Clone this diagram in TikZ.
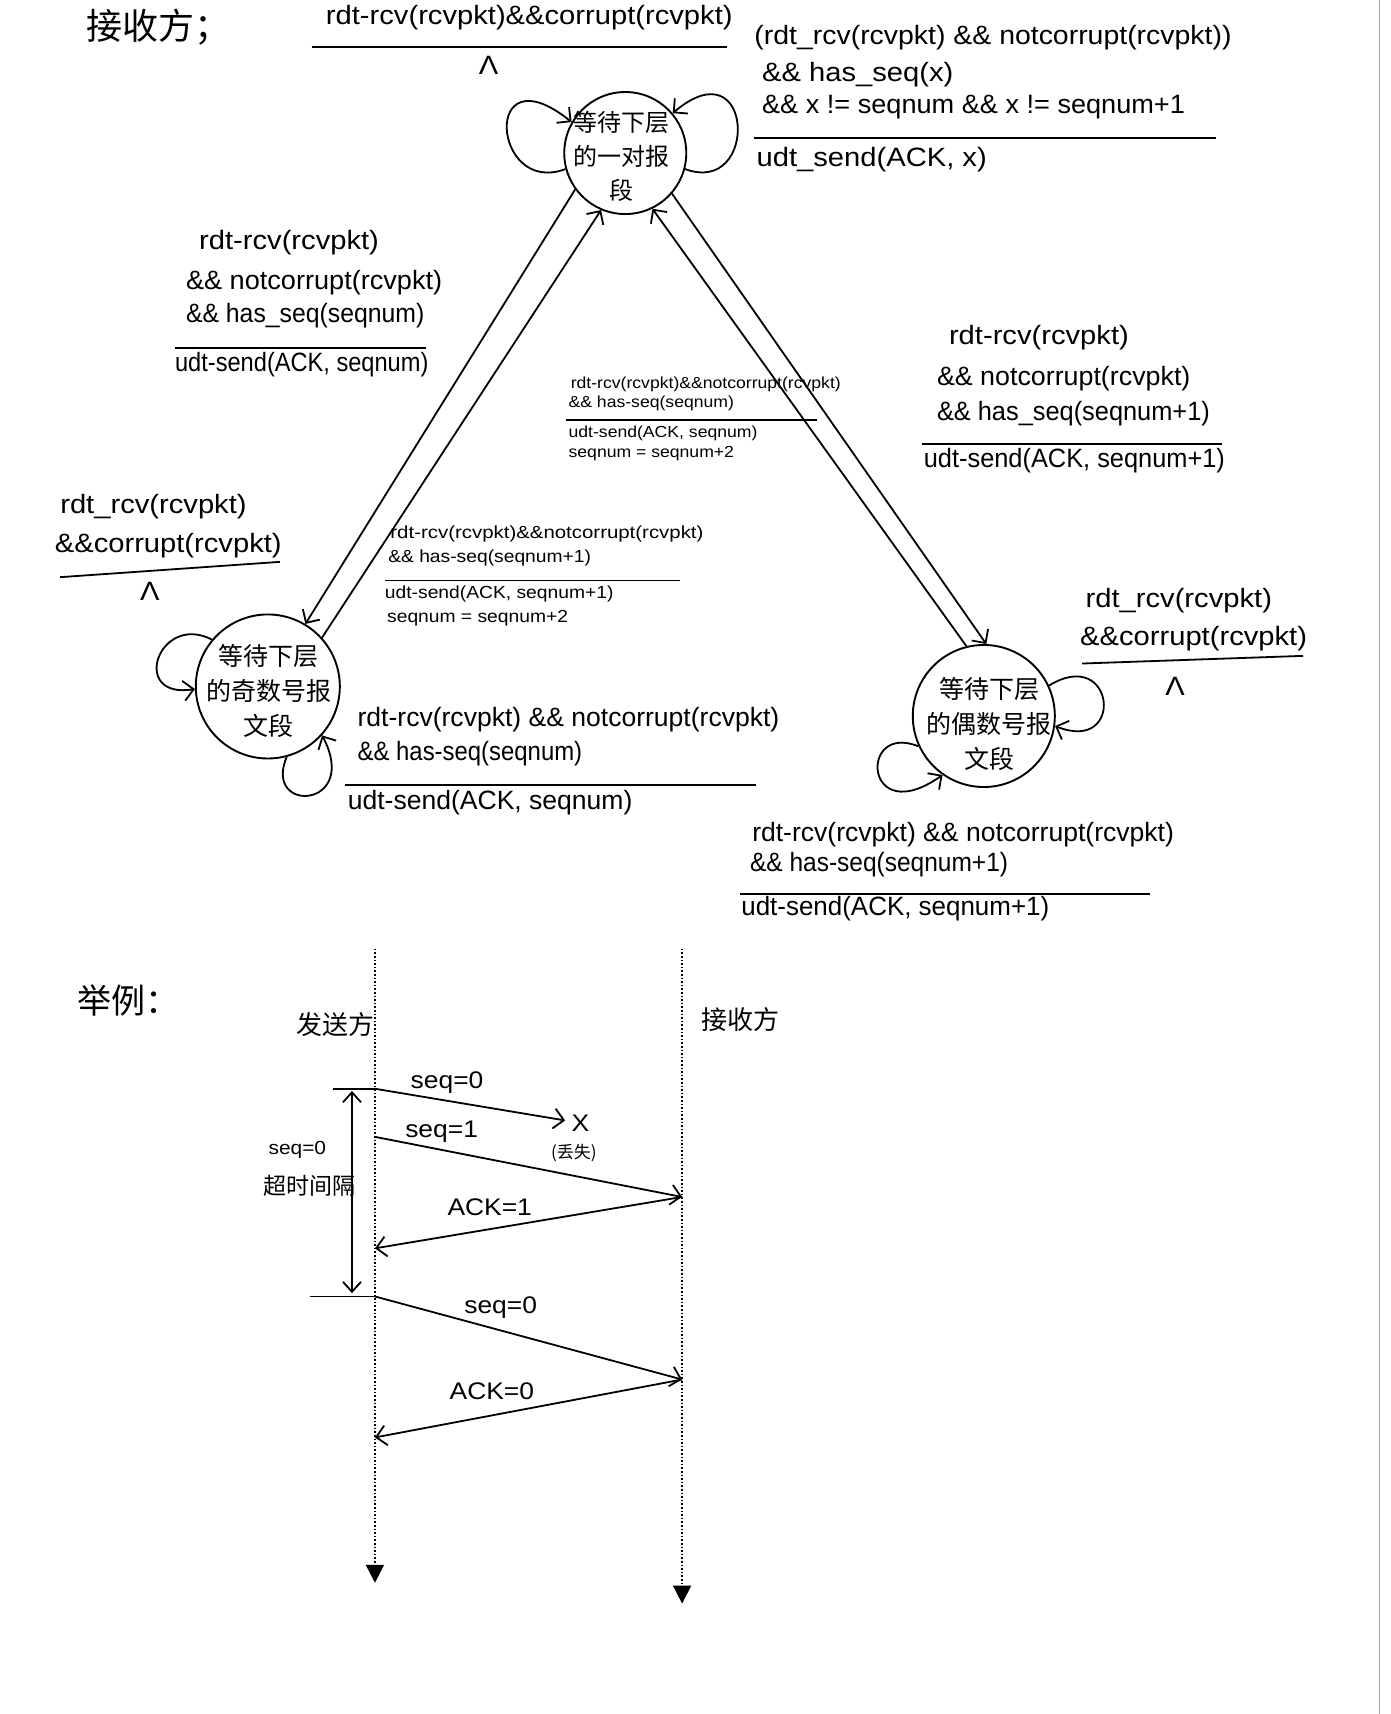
\documentclass[tikz,border=0pt]{standalone}
\usepackage{graphicx}
\usepackage{fontspec}
\setmainfont[FakeStretch=1.1]{Liberation Sans}
\newfontfamily\cjk{Noto Sans CJK SC}
\usetikzlibrary{arrows.meta}
\newcommand\hsq[2]{\scalebox{#1}[1]{#2}}
\begin{document}
\begin{tikzpicture}[x=1.0928pt,y=-1.0928pt,
  lbl/.style={anchor=mid west, inner sep=0pt, font=\fontsize{26.5}{30}\selectfont},
  sml/.style={anchor=mid west, inner sep=0pt, font=\fontsize{16}{18}\selectfont},
  mdl/.style={anchor=mid west, inner sep=0pt, font=\fontsize{17.5}{20}\selectfont},
  seqlbl/.style={anchor=center, inner sep=0pt, font=\fontsize{24}{26}\selectfont},
  cjklbl/.style={anchor=center, inner sep=0pt, font=\cjk\fontsize{26}{30}\selectfont},
  bar/.style={line width=1.8pt},
  state/.style={circle, draw, line width=1.9pt, inner sep=0pt},
  sttext/.style={align=center, inner sep=0pt, font=\cjk\fontsize{24}{34}\selectfont},
  arr/.style={line width=1.8pt, -{Straight Barb[length=10pt,width=20pt,line width=1.8pt]}},
  darr/.style={line width=1.8pt, {Straight Barb[length=10pt,width=18pt,line width=1.8pt]}-{Straight Barb[length=10pt,width=18pt,line width=1.8pt]}},
  life/.style={dotted, line width=1.6pt, -{Triangle[length=18pt,width=18pt]}}
]
\useasboundingbox (0,0) rectangle (1272,1568);
\fill[white] (0,0) rectangle (1272,1568);
\draw[black!35, line width=0.8pt] (1262,0) -- (1262,1568);

% ---------- receiver FSM ----------
\node[cjklbl, font=\cjk\fontsize{36}{40}\selectfont] (title) at (145,25) {接收方；};

% states
\node[state, minimum size=122pt] (s0) at (572,140) {};
\node[sttext] (s0t) at (569,143) {等待下层\\的一对报\\段};
\node[state, minimum size=144pt] (s1) at (245,628) {};
\node[sttext, font=\cjk\fontsize{25}{35}\selectfont] (s1t) at (246,632) {等待下层\\的奇数号报\\文段};
\node[state, minimum size=142pt] (s2) at (900,655) {};
\node[sttext, font=\cjk\fontsize{25}{35}\selectfont] (s2t) at (905,662) {等待下层\\的偶数号报\\文段};

% transitions between states
\draw[arr] (s0.216) -- (s1.59);
\draw[arr] (s1.42) -- (s0.247);
\draw[arr] (s0.319) -- (s2.88);
\draw[arr] (s2.104) -- (s0.296);

% self loops
\draw[arr] (s0.195) .. controls (450,180) and (440,45) .. (s0.150);
\draw[arr] (s0.345) .. controls (695,180) and (690,40) .. (s0.40);
\draw[arr] (s1.140) .. controls (145,560) and (118,640) .. (s1.182);
\draw[arr] (s1.285) .. controls (240,745) and (330,740) .. (s1.318);
\draw[arr] (s2.25) .. controls (1020,590) and (1030,690) .. (s2.352);
\draw[arr] (s2.205) .. controls (785,660) and (790,760) .. (s2.235);

% top self loop label
\node[lbl] (t1) at (298,20) {rdt-rcv(rcvpkt)\&\&corrupt(rcvpkt)};
\draw[bar] (285,43) -- (665,43);
\node[lbl, anchor=center] (t2) at (447,60) {Λ};

% top-right label
\node[lbl] (tr1) at (690,38) {\hsq{0.975}{(rdt\_rcv(rcvpkt) \&\& notcorrupt(rcvpkt))}};
\node[lbl] (tr2) at (697,72) {\&\& has\_seq(x)};
\node[lbl] (tr3) at (697,101) {\hsq{0.93}{\&\& x != seqnum \&\& x != seqnum+1}};
\draw[bar] (690,126) -- (1112,126);
\node[lbl] (tr4) at (692,150) {udt\_send(ACK, x)};

% left label
\node[lbl] (l1) at (182,226) {rdt-rcv(rcvpkt)};
\node[lbl] (l2) at (170,262) {\hsq{0.93}{\&\& notcorrupt(rcvpkt)}};
\node[lbl] (l3) at (170,293) {\hsq{0.85}{\&\& has\_seq(seqnum)}};
\draw[bar] (160,318) -- (390,318);
\node[lbl] (l4) at (160,337) {\hsq{0.81}{udt-send(ACK, seqnum)}};

% middle upper label
\node[sml] (m1) at (522,353) {rdt-rcv(rcvpkt)\&\&notcorrupt(rcvpkt)};
\node[sml] (m2) at (520,370) {\&\& has-seq(seqnum)};
\draw[bar] (518,384) -- (747,384);
\node[sml] (m3) at (520,398) {udt-send(ACK, seqnum)};
\node[sml] (m4) at (520,416) {seqnum = seqnum+2};

% right label
\node[lbl] (r1) at (868,313) {rdt-rcv(rcvpkt)};
\node[lbl] (r2) at (857,350) {\hsq{0.92}{\&\& notcorrupt(rcvpkt)}};
\node[lbl] (r3) at (857,382) {\hsq{0.87}{\&\& has\_seq(seqnum+1)}};
\draw[bar] (843,406) -- (1118,406);
\node[lbl] (r4) at (845,425) {\hsq{0.87}{udt-send(ACK, seqnum+1)}};

% lower-left corrupt label
\node[lbl] (c1) at (55,467) {rdt\_rcv(rcvpkt)};
\node[lbl] (c2) at (50,503) {\&\&corrupt(rcvpkt)};
\draw[bar] (55,528) -- (256,514);
\node[lbl, anchor=center] (c3) at (137,541) {Λ};

% middle lower label
\node[mdl] (n1) at (357,490) {\hsq{1.06}{rdt-rcv(rcvpkt)\&\&notcorrupt(rcvpkt)}};
\node[mdl] (n2) at (355,512) {\&\& has-seq(seqnum+1)};
\draw[bar] (352,531) -- (622,531);
\node[mdl] (n3) at (352,545) {udt-send(ACK, seqnum+1)};
\node[mdl] (n4) at (354,567) {seqnum = seqnum+2};

% label under left state
\node[lbl] (u1) at (327,662) {\hsq{0.91}{rdt-rcv(rcvpkt) \&\& notcorrupt(rcvpkt)}};
\node[lbl] (u2) at (327,693) {\hsq{0.82}{\&\& has-seq(seqnum)}};
\draw[bar] (316,718) -- (692,718);
\node[lbl] (u3) at (318,738) {\hsq{0.91}{udt-send(ACK, seqnum)}};

% right corrupt label
\node[lbl] (rc1) at (993,553) {rdt\_rcv(rcvpkt)};
\node[lbl] (rc2) at (988,588) {\&\&corrupt(rcvpkt)};
\draw[bar] (990,607) -- (1192,600);
\node[lbl, anchor=center] (rc3) at (1075,628) {Λ};

% label under right state
\node[lbl] (v1) at (688,767) {\hsq{0.91}{rdt-rcv(rcvpkt) \&\& notcorrupt(rcvpkt)}};
\node[lbl] (v2) at (686,795) {\hsq{0.84}{\&\& has-seq(seqnum+1)}};
\draw[bar] (677,818) -- (1052,818);
\node[lbl] (v3) at (678,835) {\hsq{0.89}{udt-send(ACK, seqnum+1)}};

% ---------- example ----------
\node[cjklbl, font=\cjk\fontsize{34}{38}\selectfont] (ex) at (118,915) {举例：};
\node[cjklbl] (sender) at (307,937) {发送方};
\node[cjklbl] (receiver) at (677,933) {接收方};

\coordinate (sTop) at (343,868);
\coordinate (sBot) at (343,1448);
\coordinate (rTop) at (624,868);
\coordinate (rBot) at (624,1467);
\draw[life] (sTop) -- (sBot);
\draw[life] (rTop) -- (rBot);

\coordinate (p1) at (343,996);
\coordinate (lost) at (517,1025);
\coordinate (p2) at (343,1040);
\coordinate (q1) at (624,1095);
\coordinate (p3) at (343,1142);
\coordinate (p4) at (343,1186);
\coordinate (q2) at (624,1262);
\coordinate (p5) at (343,1315);

\draw[arr] (p1) -- (lost);
\draw[arr] (p2) -- (q1);
\draw[arr] (q1) -- (p3);
\draw[arr] (p4) -- (q2);
\draw[arr] (q2) -- (p5);

\node[seqlbl] (lb1) at (409,990) {seq=0};
\node[seqlbl] (lb2) at (404,1035) {seq=1};
\node[seqlbl] (lb3) at (448,1104) {ACK=1};
\node[seqlbl] (lb4) at (458,1196) {seq=0};
\node[seqlbl] (lb5) at (450,1273) {ACK=0};
\node[seqlbl] (xx) at (531,1028) {X};
\node[cjklbl, font=\cjk\fontsize{17}{19}\selectfont] (lostlbl) at (525,1055) {(丢失)};

% timeout interval
\coordinate (h1) at (305,996);
\coordinate (h2) at (284,1186);
\draw[bar] (h1) -- (p1);
\draw[bar] (h2) -- (p4);
\coordinate (ta) at (322,998);
\coordinate (tb) at (322,1183);
\draw[darr] (ta) -- (tb);
\node[seqlbl, font=\fontsize{19}{22}\selectfont] (tolbl1) at (272,1052) {seq=0};
\node[cjklbl, font=\cjk\fontsize{23}{26}\selectfont] (tolbl2) at (283,1085) {超时间隔};
\end{tikzpicture}
\end{document}
